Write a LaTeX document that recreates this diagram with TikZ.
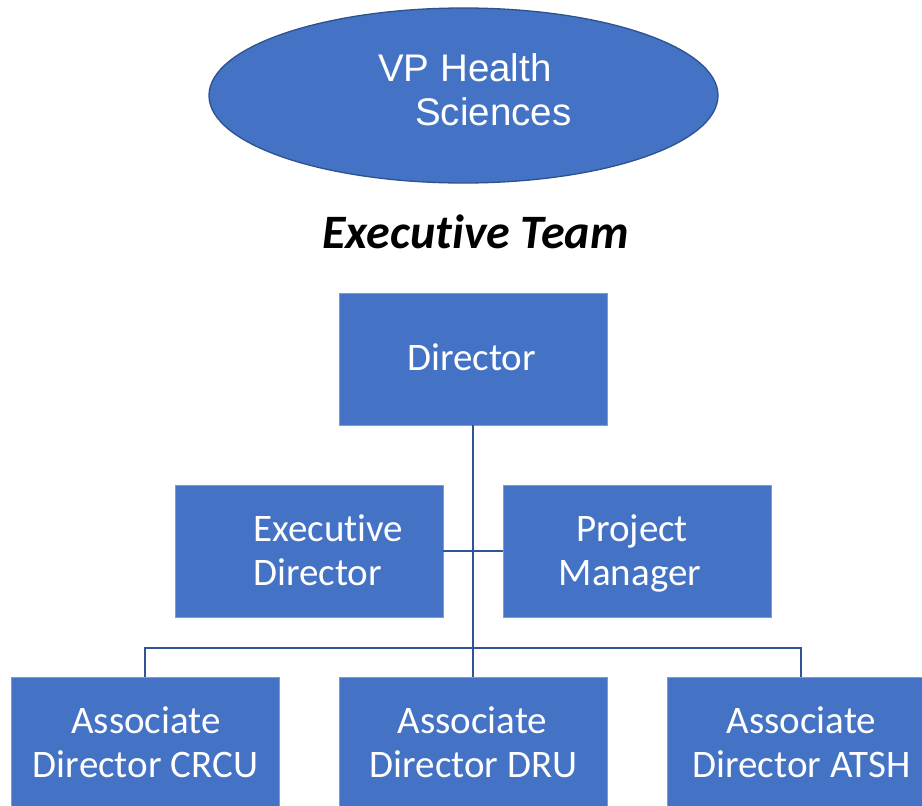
\documentclass[tikz,border=0pt]{standalone}
\usepackage{fontspec}
\setmainfont[Ligatures=NoCommon]{Carlito}
\newfontfamily\arialfont{Liberation Sans}
\usetikzlibrary{shapes.geometric}
\definecolor{boxblue}{HTML}{4472C4}
\definecolor{edgeblue}{HTML}{2F528F}
\definecolor{lineblue}{HTML}{2F5597}
\tikzset{
  box/.style={rectangle, fill=boxblue, draw=boxblue!70!white, line width=0.6pt, minimum width=268pt, minimum height=132pt, inner sep=0pt},
  txt/.style={text=white, font=\fontsize{39}{44}\selectfont, anchor=base, inner sep=0pt},
  conn/.style={draw=lineblue, line width=2.4pt}
}
\begin{document}
\begin{tikzpicture}[x=1pt,y=-1pt]
\useasboundingbox (0,0) rectangle (922,806);
\clip (0,0) rectangle (922,806);
\fill[white] (0,0) rectangle (922,806);
% ellipse
\node[ellipse, fill=boxblue, draw=edgeblue, line width=1.3pt, minimum width=509pt, minimum height=175pt, inner sep=0pt] (vp) at (463.5,95.5) {};
\node[txt, anchor=base west, font=\arialfont\fontsize{38.5}{44}\selectfont] (vpa) at (378,81) {VP Health};
\node[txt, anchor=base west, font=\arialfont\fontsize{38.5}{44}\selectfont] (vpb) at (415,125) {Sciences};
% title
\node[anchor=base, inner sep=0pt, font=\fontsize{48}{52}\selectfont\bfseries\itshape] (team) at (475.5,248) {Executive Team};
% boxes
\node[box] (dir) at (473,359) {};
\node[box] (exe) at (309,551) {};
\node[box] (pm) at (637,551) {};
\node[box] (crcu) at (145,743) {};
\node[box] (dru) at (473,743) {};
\node[box] (atsh) at (801,743) {};
% texts
\node[txt] (tdir) at (471.5,370) {Director};
\node[txt, anchor=base west] (texe1) at (253,541) {Executive};
\node[txt, anchor=base west] (texe2) at (253,585) {Director};
\node[txt] (tpm1) at (632,541) {Project};
\node[txt] (tpm2) at (630,585) {Manager};
\node[txt] (tc1) at (146,733) {Associate};
\node[txt] (tc2) at (145.5,777) {Director CRCU};
\node[txt] (td1) at (472.5,733) {Associate};
\node[txt] (td2) at (473.5,777) {Director DRU};
\node[txt] (ta1) at (801.5,733) {Associate};
\node[txt] (ta2) at (801.5,777) {Director ATSH};
% connectors
\coordinate (hub) at (473,648);
\draw[conn] (dir.south) -- (dru.north);
\draw[conn] (exe.east) -- (pm.west);
\draw[conn] (crcu.north) -- (crcu.north |- hub) -- (atsh.north |- hub) -- (atsh.north);
\end{tikzpicture}
\end{document}
